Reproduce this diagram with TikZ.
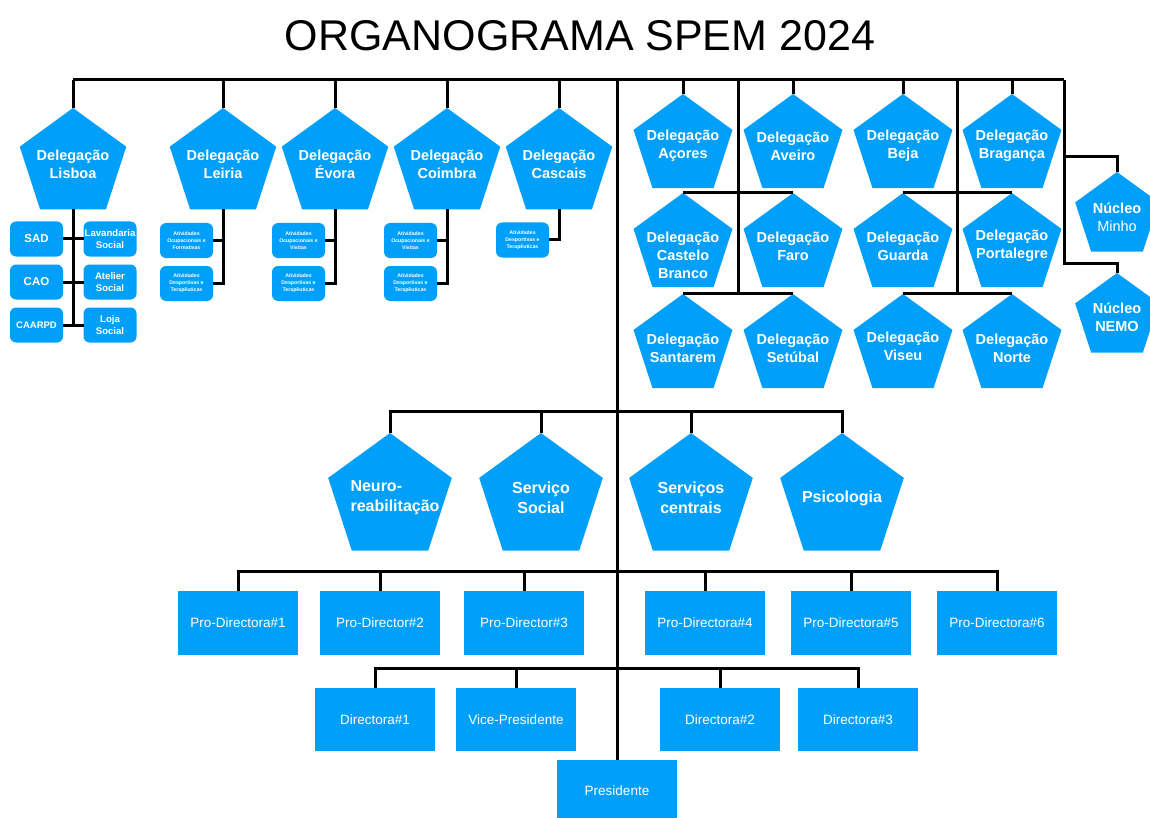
\documentclass[tikz,border=0pt]{standalone}
\usepackage{fontspec}
\setmainfont{Liberation Sans}
\usetikzlibrary{shapes.geometric}
\definecolor{spemblue}{HTML}{00A0FA}
\begin{document}
\begin{tikzpicture}[x=1pt,y=-1pt,
  conn/.style={line width=3pt, black},
  pent/.style={regular polygon, regular polygon sides=5, fill=spemblue, draw=none, inner sep=0pt, outer sep=0pt, minimum size=#1},
  ptxt/.style={text=white, font=\bfseries\fontsize{14.5}{18}\selectfont, align=center, inner sep=0pt},
  btxt/.style={text=white, font=\bfseries\fontsize{16}{20}\selectfont, align=center, inner sep=0pt},
  sbox/.style={rectangle, rounded corners=6pt, fill=spemblue, minimum width=53pt, minimum height=35pt, inner sep=0pt, outer sep=0pt, text=white, align=center, font=\bfseries\fontsize{9.6}{12}\selectfont},
  abox/.style={sbox, font=\bfseries\fontsize{5.2}{7}\selectfont},
  pbox/.style={rectangle, fill=spemblue, minimum width=120pt, minimum height=64pt, inner sep=0pt, outer sep=0pt, text=white, font=\fontsize{13.5}{16}\selectfont}
]
\useasboundingbox (0,0) rectangle (1150,818);

% title
\node[inner sep=0pt, font=\fontsize{43}{50}\selectfont] (title) at (580,36) {ORGANOGRAMA SPEM 2024};

% coordinates of the top bar
\coordinate (tl) at (73,80);
\coordinate (tr) at (1064,80);
\coordinate (j1) at (738,80);
\coordinate (j2) at (957,80);
\coordinate (nm) at (1064,157);
\coordinate (nb) at (1064,263);

% left delegations
\foreach \n/\x/\t in {lisboa/73/Lisboa, leiria/223/Leiria, evora/335/Évora, coimbra/447/Coimbra, cascais/559/Cascais}{
  \node[pent=112] (\n) at (\x,164) {};
  \node[ptxt] (\n-t) at (\x,164) {Delegação\\\t};
}

% right delegations
\foreach \n/\x/\y in {acores/683/146, aveiro/793/146, beja/903/146, braganca/1012/146,
  castelo/683/245, faro/793/245, guarda/903/245, portalegre/1012/245,
  santarem/683/346, setubal/793/346, viseu/903/346, norte/1012/346}{
  \node[pent=104] (\n) at (\x,\y) {};
}
\foreach \n/\x/\y/\t in {acores/683/146/Açores, aveiro/793/146/Aveiro, beja/903/146/Beja, braganca/1012/146/Bragança,
  faro/793/246/Faro, guarda/903/246/Guarda, portalegre/1012/246/Portalegre,
  santarem/683/348/Santarem, setubal/793/348/Setúbal, viseu/903/346/Viseu, norte/1012/348/Norte}{
  \node[ptxt] (\n-t) at (\x,\y) {Delegação\\\t};
}
\node[ptxt] (castelo-t) at (683,255) {Delegação\\Castelo\\Branco};

% nucleos
\node[pent=88] (minho) at (1117,216) {};
\node[ptxt] (minho-t) at (1117,217) {Núcleo\\\mdseries Minho};
\node[pent=88] (nemo) at (1117,317) {};
\node[ptxt] (nemo-t) at (1117,317) {Núcleo\\NEMO};

% Lisboa sub-units
\node[sbox, font=\bfseries\fontsize{11.5}{13}\selectfont] (sad) at (36.5,239) {SAD};
\node[sbox] (lav) at (110,239) {Lavandaria\\Social};
\node[sbox, font=\bfseries\fontsize{11.5}{13}\selectfont] (cao) at (36.5,282) {CAO};
\node[sbox] (atelier) at (110,282) {Atelier\\Social};
\node[sbox, font=\bfseries\fontsize{9.5}{11}\selectfont] (caarpd) at (36.5,325) {CAARPD};
\node[sbox] (loja) at (110,325) {Loja\\Social};

% activity boxes
\node[abox] (leiria-a) at (186.5,240.5) {Atividades\\Ocupacionais e\\Formativas};
\node[abox] (leiria-b) at (186.5,283.5) {Atividades\\Desportivas e\\Terapêuticas};
\node[abox] (evora-a) at (298.5,240.5) {Atividades\\Ocupacionais e\\Visitas};
\node[abox] (evora-b) at (298.5,283.5) {Atividades\\Desportivas e\\Terapêuticas};
\node[abox] (coimbra-a) at (410.5,240.5) {Atividades\\Ocupacionais e\\Visitas};
\node[abox] (coimbra-b) at (410.5,283.5) {Atividades\\Desportivas e\\Terapêuticas};
\node[abox] (cascais-a) at (522.5,240) {Atividades\\Desportivas e\\Terapêuticas};

% services
\node[pent=130] (neuro) at (390,498) {};
\node[btxt, align=left] (neuro-t) at (395,498) {Neuro-\\reabilitação};
\node[pent=130] (social) at (541,498) {};
\node[btxt] (social-t) at (541,498) {Serviço\\Social};
\node[pent=130] (centrais) at (691,498) {};
\node[btxt] (centrais-t) at (691,498) {Serviços\\centrais};
\node[pent=130] (psico) at (842,498) {};
\node[btxt] (psico-t) at (842,498) {Psicologia};

% pro-directors
\node[pbox] (pd1) at (238,623) {Pro-Directora\#1};
\node[pbox] (pd2) at (380,623) {Pro-Director\#2};
\node[pbox] (pd3) at (524,623) {Pro-Director\#3};
\node[pbox] (pd4) at (705,623) {Pro-Directora\#4};
\node[pbox] (pd5) at (851,623) {Pro-Directora\#5};
\node[pbox] (pd6) at (997,623) {Pro-Directora\#6};

% directors
\node[pbox, minimum height=63pt] (d1) at (375,719.5) {Directora\#1};
\node[pbox, minimum height=63pt] (vp) at (516,719.5) {Vice-Presidente};
\node[pbox, minimum height=63pt] (d2) at (720,719.5) {Directora\#2};
\node[pbox, minimum height=63pt] (d3) at (858,719.5) {Directora\#3};
\node[pbox, minimum height=62pt] (pres) at (617,791) {Presidente};

% connectors: top bar
\draw[conn] (tl) -- (tr);
\foreach \n in {lisboa, leiria, evora, coimbra, cascais, acores, aveiro, beja, braganca}{
  \draw[conn] (\n.north) -- (\n.north |- tl);
}
% right sub-trunks
\draw[conn] (castelo.north) -- (faro.north);
\draw[conn] (santarem.north) -- (setubal.north);
\draw[conn] (j1) -- (j1 |- santarem.north);
\draw[conn] (guarda.north) -- (portalegre.north);
\draw[conn] (viseu.north) -- (norte.north);
\draw[conn] (j2) -- (j2 |- norte.north);
% nucleos
\draw[conn] (tr) -- (nb) -| (nemo.north);
\draw[conn] (nm) -| (minho.north);

% Lisboa
\draw[conn] (lisboa.south) -- (lisboa.south |- caarpd.east);
\draw[conn] (sad.east) -- (lav.west);
\draw[conn] (cao.east) -- (atelier.west);
\draw[conn] (caarpd.east) -- (loja.west);
% activity boxes
\foreach \n in {leiria, evora, coimbra}{
  \draw[conn] (\n.south) |- (\n-b.east);
  \draw[conn] (\n-a.east) -- (\n-a.east -| \n.south);
}
\draw[conn] (cascais.south) |- (cascais-a.east);

% main trunk
\draw[conn] (tl -| pres.north) -- (pres.north);
% services
\draw[conn] (neuro.north) -- ++(0,-21) -| (psico.north);
\draw[conn] (social.north) -- ++(0,-21);
\draw[conn] (centrais.north) -- ++(0,-21);
% pro-directors
\draw[conn] (pd1.north) -- ++(0,-20) -| (pd6.north);
\foreach \n in {pd2, pd3, pd4, pd5}{
  \draw[conn] (\n.north) -- ++(0,-20);
}
% directors
\draw[conn] (d1.north) -- ++(0,-20) -| (d3.north);
\draw[conn] (vp.north) -- ++(0,-20);
\draw[conn] (d2.north) -- ++(0,-20);
\end{tikzpicture}
\end{document}
